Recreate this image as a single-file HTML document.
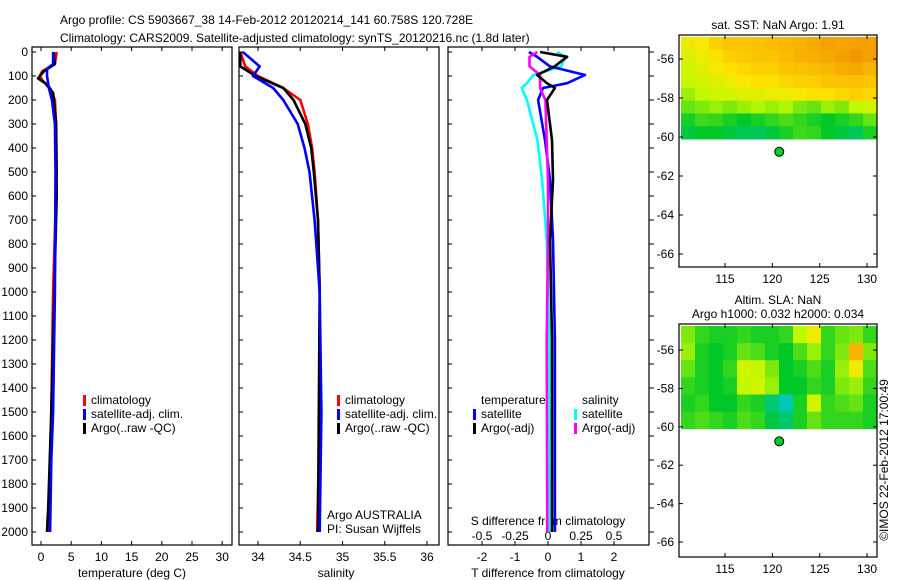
<!DOCTYPE html>
<html><head><meta charset="utf-8"><style>
body{margin:0;background:#fff;}
svg{display:block;font-family:"Liberation Sans",sans-serif;}
text{font-size:12px;fill:#000;}
</style></head><body>
<svg id="fig" width="900" height="580" viewBox="0 0 900 580">
<text x="60" y="24">Argo profile: CS 5903667_38 14-Feb-2012 20120214_141 60.758S 120.728E</text>
<text x="60" y="42">Climatology: CARS2009. Satellite-adjusted climatology: synTS_20120216.nc (1.8d later)</text>
<g id="g"></g>
<text transform="translate(888,460) rotate(-90)" text-anchor="middle">©IMOS 22-Feb-2012 17:00:49</text>
</svg>
<script>
// depth grids
const depT=[0,50,80,100,120,150,200,300,500,1000,1500,2000];
const tClim=[2.6,2.3,0.2,-0.2,0.3,1.5,2.3,2.5,2.6,2.0,1.7,1.2];
const depTs=[0,50,70,100,150,200,300,500,1000,1500,1700,2000];
const tSat=[2.0,2.0,1.0,1.0,1.3,1.8,2.3,2.4,2.3,2.0,1.7,1.5];
const depTa=[0,50,80,110,130,170,300,600,1000,1500,1900,2000];
const tArgo=[2.1,2.3,0.5,-0.5,0.7,2.0,2.5,2.6,2.2,1.7,1.2,1.0];
const depS=[0,60,100,150,200,300,400,500,700,1000,1500,2000];
const sClim=[33.79,33.85,34.0,34.30,34.5,34.59,34.64,34.67,34.71,34.73,34.73,34.70];
const sSat=[33.82,34.02,33.94,34.18,34.30,34.47,34.55,34.61,34.67,34.73,34.75,34.73];
const sArgo=[33.79,33.79,33.97,34.30,34.42,34.56,34.63,34.66,34.71,34.73,34.72,34.71];
const depD=[0,20,60,96,130,150,200,367,533,783,1200,2000];
const dTsat=[-0.58,-0.33,0.06,1.12,0.58,-0.15,-0.3,-0.09,0.06,0.15,0.21,0.21];
const dTargo=[-0.24,0.58,0.2,-0.33,-0.03,0.21,-0.03,0.12,0.15,0.06,0.12,0.12];
const dSsat=[0.07,0.13,0.1,-0.11,-0.16,-0.2,-0.16,-0.08,-0.045,-0.01,0.01,0.015];
const dSargo=[-0.08,-0.14,-0.14,-0.06,-0.06,-0.06,-0.02,-0.01,0,0,-0.01,-0.005];
const depthTicks=[0,100,200,300,400,500,600,700,800,900,1000,1100,1200,1300,1400,1500,1600,1700,1800,1900,2000];
const tTicks=[0,5,10,15,20,25,30];
const sTicks=[34,34.5,35,35.5,36];
const dTticks=[-2,-1,0,1,2];
const dSticks=[-0.5,-0.25,0,0.25,0.5];
const latTicks=[-56,-58,-60,-62,-64,-66];
const lonTicks=[115,120,125,130];
const sstGrid=[
[0.62,0.64,0.70,0.72,0.72,0.73,0.74,0.75,0.76,0.78,0.80,0.79,0.80,0.80],
[0.60,0.62,0.66,0.70,0.71,0.72,0.72,0.74,0.76,0.77,0.78,0.80,0.82,0.80],
[0.58,0.60,0.63,0.66,0.68,0.70,0.70,0.72,0.73,0.74,0.75,0.77,0.78,0.76],
[0.56,0.58,0.60,0.62,0.64,0.66,0.66,0.68,0.70,0.70,0.72,0.72,0.73,0.72],
[0.52,0.55,0.57,0.58,0.60,0.60,0.62,0.62,0.64,0.66,0.66,0.68,0.70,0.68],
[0.48,0.50,0.52,0.50,0.52,0.54,0.52,0.54,0.50,0.48,0.52,0.50,0.55,0.58],
[0.42,0.45,0.44,0.42,0.40,0.42,0.44,0.46,0.44,0.42,0.40,0.42,0.44,0.48],
[0.38,0.40,0.40,0.38,0.36,0.36,0.38,0.42,0.45,0.44,0.40,0.38,0.36,0.42]];
const slaGrid=[
[0.50,0.44,0.42,0.42,0.44,0.42,0.42,0.44,0.55,0.62,0.44,0.48,0.50,0.44],
[0.52,0.42,0.40,0.42,0.48,0.46,0.42,0.40,0.46,0.52,0.44,0.50,0.76,0.50],
[0.48,0.42,0.40,0.44,0.58,0.56,0.50,0.40,0.42,0.46,0.42,0.52,0.62,0.46],
[0.44,0.42,0.40,0.42,0.56,0.58,0.52,0.40,0.40,0.44,0.42,0.50,0.52,0.44],
[0.42,0.44,0.40,0.40,0.44,0.42,0.34,0.28,0.42,0.58,0.44,0.46,0.48,0.42],
[0.44,0.46,0.44,0.42,0.46,0.44,0.38,0.34,0.42,0.48,0.44,0.44,0.44,0.42]];
const argoLon=120.728, argoLat=-60.758;

const NS='http://www.w3.org/2000/svg';
const G=document.getElementById('g');
function mk(t,a,p){const e=document.createElementNS(NS,t);for(const k in a)e.setAttribute(k,a[k]);(p||G).appendChild(e);return e;}
const yD=d=>52+d*0.24;
const xT=t=>41+6.04*t;
const xS=s=>258+(s-34)*84.5;
const xdT=t=>548+33*t;
const xdS=s=>548+132*s;

function panel(x0,x1,name){
 const r=mk('rect',{x:x0,y:47,width:x1-x0,height:498,fill:'none',stroke:'#000','stroke-width':1.2});
 
 
 depthTicks.forEach(d=>{mk('line',{x1:x0,x2:x0+4,y1:yD(d),y2:yD(d),stroke:'#000'});});
}
panel(32,232,'temperature-panel');
panel(239,439,'salinity-panel');
panel(448,649,'difference-panel');
depthTicks.forEach(d=>{
 const t=mk('text',{x:28,y:yD(d)+4,'text-anchor':'end'});t.textContent=d;
 
 
 mk('line',{x1:649,x2:654,y1:yD(d),y2:yD(d),stroke:'#000'});
});
function xticks(vals,fx,y,name){vals.forEach(v=>{
 mk('line',{x1:fx(v),x2:fx(v),y1:47,y2:51,stroke:'#000'});
 mk('line',{x1:fx(v),x2:fx(v),y1:545,y2:541,stroke:'#000'});
 const t=mk('text',{x:fx(v),y:y,'text-anchor':'middle'});t.textContent=v;
 
 
});}
xticks(tTicks,xT,561,'temperature-tick-label');
xticks(sTicks,xS,561,'salinity-tick-label');
xticks(dTticks,xdT,561,'t-diff-tick-label');
dSticks.forEach(v=>{const t=mk('text',{x:xdS(v),y:540,'text-anchor':'middle'});t.textContent=v;
 
 });
function lab(x,y,s,name,anchor){const t=mk('text',{x:x,y:y,'text-anchor':anchor||'middle'});t.textContent=s;
 
 return t;}
lab(132,577,'temperature (deg C)','x-axis-title-temperature');
lab(336,577,'salinity','x-axis-title-salinity');
lab(548,577,'T difference from climatology','x-axis-title-t-diff');
lab(548,525,'S difference from climatology','x-axis-title-s-diff');
lab(327,519,'Argo AUSTRALIA','argo-australia-label','start');
lab(327,533,'PI: Susan Wijffels','pi-label','start');

function line(xs,ds,fx,col,name){
 let pts=xs.map((v,i)=>fx(v).toFixed(1)+','+yD(ds[i]).toFixed(1)).join(' ');
 const p=mk('polyline',{points:pts,fill:'none',stroke:col,'stroke-width':2.6,'stroke-linejoin':'round'});
 
 
}
line(tClim,depT,xT,'#f00','temp-climatology-line');
line(tArgo,depTa,xT,'#000','temp-argo-line');
line(tSat,depTs,xT,'#00f','temp-satellite-line');
line(sClim,depS,xS,'#f00','sal-climatology-line');
line(sArgo,depS,xS,'#000','sal-argo-line');
line(sSat,depS,xS,'#00f','sal-satellite-line');
line(dSsat,depD,xdS,'#0ff','dsal-satellite-line');
line(dTsat,depD,xdT,'#00f','dtemp-satellite-line');
line(dSargo,depD,xdS,'#f0f','dsal-argo-line');
line(dTargo,depD,xdT,'#000','dtemp-argo-line');

function legend(x,y,items,name){items.forEach((it,i)=>{
 mk('rect',{x:x,y:y+i*14-9,width:3,height:11,fill:it[0]});
 lab(x+8,y+i*14,it[1],name,'start');
});}
legend(83,404,[['#f00','climatology'],['#00f','satellite-adj. clim.'],['#000','Argo(..raw -QC)']],'temp-legend-entry');
legend(337,404,[['#f00','climatology'],['#00f','satellite-adj. clim.'],['#000','Argo(..raw -QC)']],'sal-legend-entry');
lab(481,404,'temperature','diff-legend-temp-title','start');
legend(473,418,[['#00f','satellite'],['#000','Argo(-adj)']],'diff-legend-temp-entry');
lab(582,404,'salinity','diff-legend-sal-title','start');
legend(574,418,[['#0ff','satellite'],['#f0f','Argo(-adj)']],'diff-legend-sal-entry');

// maps
const stops=[[0.25,[0,200,220]],[0.4,[0,200,40]],[0.55,[190,250,0]],[0.65,[255,230,0]],[0.8,[245,160,0]],[1,[220,60,0]]];
function cmap(v){if(v<=stops[0][0])return 'rgb('+stops[0][1]+')';
 for(let i=1;i<stops.length;i++){if(v<=stops[i][0]){const a=stops[i-1],b=stops[i],f=(v-a[0])/(b[0]-a[0]);
  return 'rgb('+a[1].map((c,j)=>Math.round(c+(b[1][j]-c)*f)).join(',')+')';}}return 'rgb(220,60,0)';}
function map(top,bot,latTop,pxLat,grid,title1,title2,name){
 const lonX=l=>725+(l-115)*9.47, latY=l=>top+(latTop-l)*pxLat;
 const y0=top+2, y1=latY(-60.1), x0=681, x1=877;
 const rows=grid.length, cols=grid[0].length, cw=(x1-x0)/cols, ch=(y1-y0)/rows;
 grid.forEach((row,r)=>row.forEach((v,c)=>{
  const e=mk('rect',{x:x0+c*cw,y:y0+r*ch,width:cw+0.5,height:ch+0.5,fill:cmap(v)});
  
  
 }));
 const b=mk('rect',{x:679,y:top,width:198,height:bot-top,fill:'none',stroke:'#000','stroke-width':1.2});
 
 
 latTicks.forEach(l=>{const y=latY(l);mk('line',{x1:679,x2:683,y1:y,y2:y,stroke:'#000'});mk('line',{x1:877,x2:873,y1:y,y2:y,stroke:'#000'});
  lab(674,y+4,l,'lat-tick-label','end');});
 lonTicks.forEach(l=>{const x=lonX(l);mk('line',{x1:x,x2:x,y1:top,y2:top+4,stroke:'#000'});mk('line',{x1:x,x2:x,y1:bot,y2:bot-4,stroke:'#000'});
  lab(x,bot+16,l,'lon-tick-label');});
 const d=mk('circle',{cx:lonX(argoLon),cy:latY(argoLat),r:4.5,fill:'#0c2',stroke:'#000','stroke-width':1});
 
 
 if(title1)lab(778,top-(title2?20:6),title1,'map-title');
 if(title2)lab(778,top-6,title2,'map-subtitle');
}
map(35,267,-56+(59-35)/19.5,19.5,sstGrid,'sat. SST: NaN Argo: 1.91',null,'sst-map');
map(324,557,-56+(350-324)/19.2,19.2,slaGrid,'Altim. SLA: NaN','Argo h1000: 0.032 h2000: 0.034','sla-map');
</script>
</body></html>
